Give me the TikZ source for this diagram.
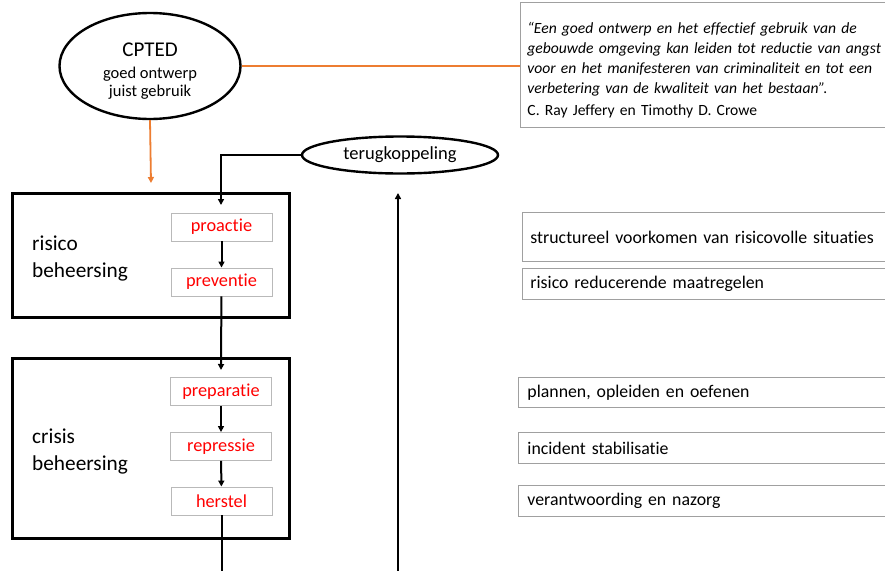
\documentclass[tikz,border=0pt]{standalone}
\usepackage{fontspec}
\setmainfont{Carlito}[Ligatures=NoCommon]
\usetikzlibrary{arrows.meta,shapes.geometric}
\definecolor{cptorange}{RGB}{237,125,49}
\definecolor{cptred}{RGB}{255,0,0}
\definecolor{cptgray}{RGB}{160,160,160}
\definecolor{cptlgray}{RGB}{185,185,185}
\begin{document}
\begin{tikzpicture}[x=1pt,y=-1pt,
  ell/.style={draw=black,line width=2.4pt,ellipse,inner sep=0pt,align=center},
  bigbox/.style={draw=black,line width=2.6pt},
  stepbox/.style={draw=cptlgray,line width=0.9pt,rectangle,minimum width=101pt,minimum height=28pt,inner sep=0pt,text=cptred,font=\fontsize{18.3}{21}\selectfont},
  descbox/.style={draw=cptgray,line width=0.9pt,rectangle,anchor=north west,align=left,text width=360pt,inner xsep=7pt,font=\fontsize{17.8}{21}\selectfont},
  conn/.style={draw=black,line width=2pt},
  arr/.style={conn,-{Triangle[length=6pt,width=6pt]}},
  oarr/.style={draw=cptorange,line width=1.8pt,-{Triangle[length=6pt,width=6pt]}},
  lbl/.style={align=left,anchor=west,font=\fontsize{21.3}{27}\selectfont,inner sep=0pt}
]
\useasboundingbox (0,0) rectangle (885,570);
\clip (0,0) rectangle (885,570);
\fill[white] (0,0) rectangle (885,570);

% CPTED ellipse
\node[ell,minimum width=181pt,minimum height=106pt,font=\fontsize{16.5}{18}\selectfont] (cpted) at (150,66)
  {\rule{0pt}{24pt}{\fontsize{21}{24}\selectfont CPTED}\\[4pt]goed ontwerp\\juist gebruik};

% quote box
\node[draw=cptgray,line width=0.9pt,anchor=north west,minimum height=125pt,text width=356pt,inner xsep=7pt,align=left,font=\fontsize{15.6}{20}\selectfont] (quote) at (520,2)
  {\itshape\rule{0pt}{22pt}“Een goed ontwerp en het effectief gebruik van de\\
  gebouwde omgeving kan leiden tot reductie van angst\\
  voor en het manifesteren van criminaliteit en tot een\\
  verbetering van de kwaliteit van het bestaan”.\\[2pt]
  \upshape C. Ray Jeffery en Timothy D. Crowe};

% terugkoppeling
\node[ell,minimum width=196pt,minimum height=37pt,font=\fontsize{18.5}{21}\selectfont] (terug) at (400,155) {terugkoppeling};

% big boxes
\node[bigbox,anchor=north west,minimum width=277pt,minimum height=124pt,inner sep=0pt] (risbox) at (11,192) {};
\node[bigbox,anchor=north west,minimum width=277pt,minimum height=180pt,inner sep=0pt] (crisbox) at (11,357) {};
\node[lbl] (rislbl) at (32,258) {risico\\beheersing};
\node[lbl] (crislbl) at (32,451) {crisis\\beheersing};

% step boxes
\node[stepbox] (proactie) at (221.5,227) {proactie};
\node[stepbox] (preventie) at (221.5,282) {preventie};
\node[stepbox] (preparatie) at (221,391.5) {preparatie};
\node[stepbox] (repressie) at (221,446.5) {repressie};
\node[stepbox] (herstel) at (221.5,501) {herstel};

% description boxes
\node[descbox,minimum height=49pt,inner xsep=8pt] (d1) at (522,212) {structureel voorkomen van risicovolle situaties};
\node[descbox,minimum height=31pt,inner xsep=8pt] (d2) at (522,268) {risico reducerende maatregelen};
\node[descbox,minimum height=30pt,inner xsep=9pt] (d3) at (518,377) {plannen, opleiden en oefenen};
\node[descbox,minimum height=31pt,inner xsep=9pt] (d4) at (518,432) {incident stabilisatie};
\node[descbox,minimum height=31pt,inner xsep=9pt] (d5) at (518,485) {verantwoording en nazorg};

% coordinates
\coordinate (cptin) at (151,183);
\coordinate (risin) at (221,205);
\coordinate (crisin) at (221,370);
\coordinate (bottomL) at (222,572);
\coordinate (bottomR) at (398,572);
\coordinate (fbtop) at (398,193);

% connectors
\draw[draw=cptorange,line width=1.8pt] (cpted.east) -- (cpted.east -| quote.west);
\draw[oarr] (cpted.south) -- (cptin);
\draw[arr] (terug.west) -| (risin);
\draw[arr] (proactie) -- (preventie);
\draw[arr] (preventie) -- (crisin);
\draw[arr] (preparatie) -- (repressie);
\draw[arr] (repressie) -- (herstel);
\draw[conn] (herstel.south) -- (herstel.south |- bottomL);
\draw[arr] (bottomR) -- (fbtop);
\end{tikzpicture}
\end{document}
